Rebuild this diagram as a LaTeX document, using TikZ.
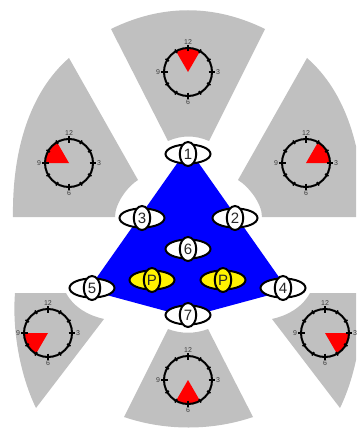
\documentclass[tikz,border=0pt]{standalone}
\usepackage{xcolor}
\usepackage{fontspec}
\setmainfont{Liberation Sans}
\usetikzlibrary{shapes.geometric}

\definecolor{sectorgray}{RGB}{192,192,192}
\definecolor{hourgray}{RGB}{60,60,60}

% clock face: centre x, centre y, first angle of the red wedge
\newcommand{\clockface}[3]{
	\begin{scope}[shift={(#1,#2)}]
		\fill[red] (0,0) -- (#3:24) arc (#3:#3+60:24) -- cycle;
		\draw[ring] (0,0) circle (24);
		\foreach \a in {30,60,120,150,210,240,300,330} \draw[tick] (\a:22) -- (\a:26);
		\foreach \a in {0,90,180,270} \draw[tick] (\a:20.5) -- (\a:27);
		\node[hourlabel] at (90:30) {12};
		\node[hourlabel] at (0:30) {3};
		\node[hourlabel] at (-90:30) {6};
		\node[hourlabel] at (180:30) {9};
	\end{scope}
}

\begin{document}
\begin{tikzpicture}[x=1pt, y=1pt,
		ring/.style={line width=2pt},
		tick/.style={line width=1.7pt},
		hourlabel/.style={font=\fontsize{7}{7}\selectfont, text=hourgray, inner sep=0pt},
		sector/.style={fill=sectorgray},
		widelobe/.style={ellipse, draw, line width=2pt, fill=#1, minimum width=45pt, minimum height=19pt, inner sep=0pt},
		talllobe/.style={ellipse, draw, line width=2pt, fill=#1, minimum width=16.5pt, minimum height=24pt, inner sep=0pt, font=\fontsize{15}{15}\selectfont, text=black!85}]
	\useasboundingbox (0,0) rectangle (356,-428);
	\clip (0,0) rectangle (356,-428);

	% Gray sectors
	\fill[sector] (111,-29) .. controls (162,-4) and (214,-4) .. (265,-29) -- (209,-141) .. controls (195,-135) and (182,-135) .. (168,-141) -- cycle;
	\fill[sector] (69,-58) .. controls (30,-92) and (12,-150) .. (13,-217) -- (115,-217) .. controls (115,-203) and (128,-186) .. (138,-180) -- cycle;
	\fill[sector] (307,-58) .. controls (346,-92) and (364,-150) .. (363,-217) -- (262,-217) .. controls (262,-203) and (248,-186) .. (238,-180) -- cycle;
	\fill[sector] (15,-293) .. controls (12,-330) and (20,-375) .. (36,-408) -- (104,-319) .. controls (90,-316) and (74,-308) .. (66,-293) -- cycle;
	\fill[sector] (361,-293) .. controls (364,-330) and (356,-375) .. (340,-408) -- (272,-319) .. controls (286,-316) and (302,-308) .. (310,-293) -- cycle;
	\fill[sector] (124,-417) .. controls (165,-431) and (212,-431) .. (253,-417) -- (208,-329) .. controls (195,-334) and (181,-334) .. (168,-329) -- cycle;

	% Blue area
	\fill[blue] (183,-155) -- (193,-155) -- (288,-290) -- (188,-317) -- (88,-290) -- cycle;

	% Clocks
	\clockface{188}{-72}{60}
	\clockface{69}{-163}{120}
	\clockface{306}{-163}{0}
	\clockface{48}{-333}{180}
	\clockface{325}{-333}{300}
	\clockface{188}{-380}{240}

	% Numbered ovals
	\foreach \px/\py/\lab in {188/-154/1, 235/-218/2, 142/-218/3, 283/-288/4, 92/-288/5, 188/-249/6, 188/-315/7} {
		\node[widelobe=white] (wide\lab) at (\px,\py) {};
		\node[talllobe=white] (oval\lab) at (\px,\py) {\lab};
	}

	% P ovals
	\foreach \px/\py/\name in {152/-280/left, 223/-280/right} {
		\node[widelobe=yellow] (wide\name) at (\px,\py) {};
		\node[talllobe=yellow] (park\name) at (\px,\py) {P};
	}
\end{tikzpicture}
\end{document}
